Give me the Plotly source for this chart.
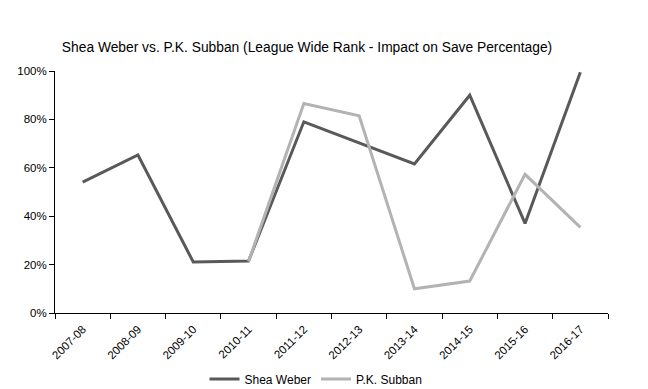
import plotly.graph_objects as go

seasons = ["2007-08", "2008-09", "2009-10", "2010-11", "2011-12",
           "2012-13", "2013-14", "2014-15", "2015-16", "2016-17"]
weber = [0.541, 0.653, 0.211, 0.215, 0.790, 0.702, 0.616, 0.900, 0.370, 0.995]
subban = [None, None, None, 0.213, 0.866, 0.815, 0.100, 0.132, 0.573, 0.354]

title_text = "Shea Weber vs. P.K. Subban (League Wide Rank - Impact on Save Percentage)"
font_family = "Liberation Sans, Arial, sans-serif"

# the page adds an 8px body margin, so the figure is drawn 8px smaller and offset
OFF = 8
W, H = 648 - OFF, 389 - OFF

fig = go.Figure()
fig.add_trace(go.Scatter(x=seasons, y=weber, mode="lines", name="Shea Weber",
                         line=dict(color="#595959", width=3)))
fig.add_trace(go.Scatter(x=seasons, y=subban, mode="lines", name="P.K. Subban",
                         line=dict(color="#b3b3b3", width=3)))

fig.update_layout(
    width=W, height=H,
    paper_bgcolor="white", plot_bgcolor="white",
    margin=dict(l=55 - OFF, r=40, t=71 - OFF, b=76, autoexpand=False),
    font=dict(family=font_family, size=12, color="black"),
    title=dict(text=title_text, x=(307 - OFF) / W, xanchor="center",
               y=1 - (47 - OFF) / H, yanchor="middle",
               font=dict(size=13.8, color="black")),
    showlegend=True,
    legend=dict(orientation="h", x=(316 - 55) / 553, xanchor="center",
                y=-(379 - 313) / 242, yanchor="middle", font=dict(size=12),
                itemwidth=30, tracegroupgap=0, bgcolor="rgba(0,0,0,0)"),
)
fig.update_xaxes(type="category", range=[-0.5, 9.5], showgrid=False,
                 showline=True, linecolor="black", linewidth=1,
                 ticks="outside", ticklen=5, tickcolor="black",
                 tickson="boundaries", tickangle=-45, automargin=False,
                 ticklabelstandoff=4,
                 tickfont=dict(size=11.5, color="black"))
fig.update_yaxes(range=[0, 1], tickvals=[0, 0.2, 0.4, 0.6, 0.8, 1.0],
                 tickformat=".0%", showgrid=False, zeroline=False,
                 showline=True, linecolor="black", linewidth=1,
                 ticks="outside", ticklen=5, tickcolor="black", automargin=False,
                 tickfont=dict(size=11.5, color="black"))

fig.write_html("out.html")
